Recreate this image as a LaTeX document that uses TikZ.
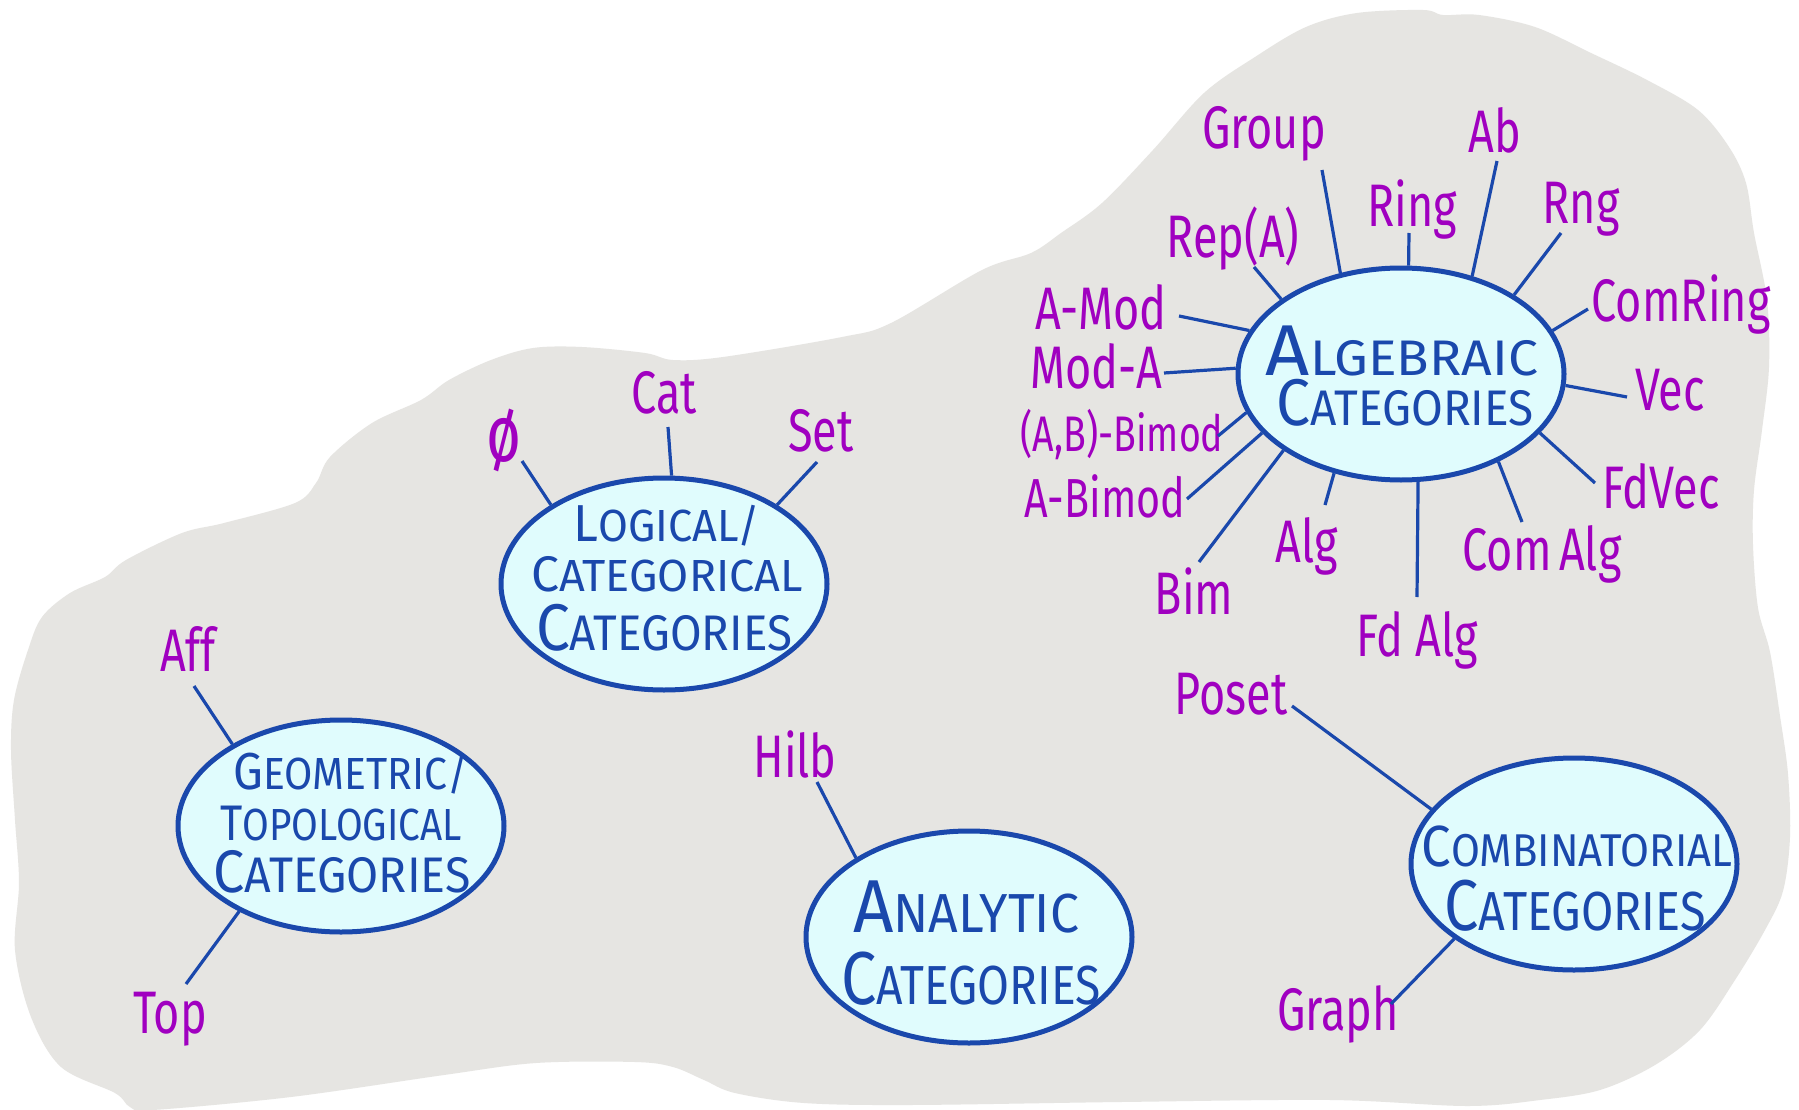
\documentclass[tikz,border=0pt]{standalone}
\usepackage{fontspec}
\setmainfont{Fira Sans}
\usepackage{graphicx}
\usetikzlibrary{shapes.geometric}
\definecolor{blobgrey}{RGB}{230,229,226}
\definecolor{ellfill}{RGB}{224,252,253}
\definecolor{inkblue}{RGB}{26,72,172}
\definecolor{labpurple}{RGB}{160,0,192}
\newcommand{\capline}[5]{\scalebox{#1}[1]{\fontsize{#2}{#2}\selectfont #3\fontsize{#4}{#4}\selectfont #5}}
\newcommand{\lbltext}[1]{\scalebox{0.75}[1]{#1}}
\begin{document}
\begin{tikzpicture}[x=1pt,y=-1pt,
  catell/.style={ellipse, draw=inkblue, fill=ellfill, line width=5pt, minimum width=326pt, minimum height=212pt, inner sep=0pt},
  catline/.style={text=inkblue, anchor=base, inner sep=0pt},
  lbl/.style={text=labpurple, anchor=base, inner sep=0pt, font=\fontsize{60}{60}\selectfont},
  conn/.style={draw=inkblue, line width=3.2pt}]
\useasboundingbox (0,0) rectangle (1799,1110);
\fill[white] (0,0) rectangle (1799,1110);
% background blob
\fill[blobgrey] plot[smooth cycle, tension=0.55] coordinates {
(11,750) (14,700) (28,650) (42,617) (70,593) (105,577) (126,560) (182,533) (224,523) (295,503) (316,483) (330,457) (372,423) (421,400) (449,380) (491,360) (533,348) (582,347) (645,353) (673,360) (723,357) (842,337) (891,323) (982,270) (1031,253) (1061,233) (1102,203) (1153,150) (1204,93) (1255,57) (1306,27) (1357,13) (1423,10) (1443,15) (1479,15) (1535,27) (1591,53) (1647,80) (1698,110) (1729,147) (1746,183) (1754,233) (1767,300) (1769,367) (1762,430) (1754,490) (1753,545) (1758,608) (1770,652) (1780,716) (1788,774) (1790,837) (1783,891) (1765,930) (1735,980) (1700,1030) (1655,1065) (1600,1090) (1540,1100) (1467,1106) (1331,1100) (1121,1102) (910,1105) (804,1103) (735,1093) (704,1080) (673,1067) (635,1062) (536,1063) (444,1075) (291,1097) (153,1110) (130,1107) (115,1093) (61,1067) (31,1017) (15,950) (19,883) (15,820)};

% ellipses
\node[catell] (alg) at (1401,374) {};
\node[catell] (log) at (664,584) {};
\node[catell] (geo) at (341,826) {};
\node[catell] (ana) at (969,937) {};
\node[catell] (comb) at (1574,864) {};

% ellipse texts
\node[catline] (algA) at (1402,375) {\capline{1.07}{72}{A}{50}{LGEBRAIC}};
\node[catline] (algB) at (1405,425) {\capline{0.92}{66}{C}{50}{ATEGORIES}};
\node[catline] (logA) at (667,541) {\capline{0.96}{52}{L}{45}{OGICAL/}};
\node[catline] (logB) at (667,591) {\capline{1.0}{50}{C}{45}{ATEGORICAL}};
\node[catline] (logC) at (664,650) {\capline{0.915}{66}{C}{50}{ATEGORIES}};
\node[catline] (geoA) at (351,789) {\capline{0.91}{52}{G}{45}{EOMETRIC/}};
\node[catline] (geoB) at (341,840) {\capline{0.86}{50}{T}{45}{OPOLOGICAL}};
\node[catline] (geoC) at (342,892) {\capline{0.93}{60}{C}{50}{ATEGORIES}};
\node[catline] (anaA) at (966,932) {\capline{0.94}{75}{A}{55}{NALYTIC}};
\node[catline] (anaB) at (971,1004) {\capline{0.84}{75}{C}{55}{ATEGORIES}};
\node[catline] (combA) at (1577,866) {\capline{0.91}{58}{C}{46}{OMBINATORIAL}};
\node[catline] (combB) at (1575,930) {\capline{0.85}{72}{C}{55}{ATEGORIES}};

% labels: algebraic
\node[lbl] (group) at (1264,149) {\lbltext{Group}};
\node[lbl] (ring) at (1412,226) {\lbltext{Ring}};
\node[lbl] (ab) at (1495,153) {\lbltext{Ab}};
\node[lbl] (rng) at (1581,224) {\lbltext{Rng}};
\node[lbl] (comring) at (1681,321) {\lbltext{ComRing}};
\node[lbl] (vec) at (1670,410) {\lbltext{Vec}};
\node[lbl] (fdvec) at (1661,508) {\lbltext{FdVec}};
\node[lbl] (comalg) at (1542,570) {\lbltext{Com\,Alg}};
\node[lbl] (fdalg) at (1417,656) {\lbltext{Fd Alg}};
\node[lbl] (alglab) at (1307,562) {\lbltext{Alg}};
\node[lbl] (bim) at (1194,614) {\lbltext{Bim}};
\node[lbl,font=\fontsize{55}{55}\selectfont] (abimod) at (1105,517) {\lbltext{A-Bimod}};
\node[lbl,font=\fontsize{50}{50}\selectfont] (abbimod) at (1122,451) {\lbltext{(A,B)-Bimod}};
\node[lbl] (moda) at (1096,388) {\lbltext{Mod-A}};
\node[lbl] (amod) at (1101,329) {\lbltext{A-Mod}};
\node[lbl] (repa) at (1233,258) {\lbltext{Rep(A)}};
% labels: logical
\node[lbl,font=\fontsize{80}{80}\selectfont] (empty) at (504,461) {\lbltext{ø}};
\node[lbl] (cat) at (664,413) {\lbltext{Cat}};
\node[lbl] (set) at (821,451) {\lbltext{Set}};
% labels: geometric
\node[lbl] (aff) at (188,671) {\lbltext{Aff}};
\node[lbl] (top) at (170,1033) {\lbltext{Top}};
% labels: analytic
\node[lbl] (hilb) at (795,777) {\lbltext{Hilb}};
% labels: combinatorial
\node[lbl] (poset) at (1231,714) {\lbltext{Poset}};
\node[lbl] (graph) at (1338,1030) {\lbltext{Graph}};

% connector ends near labels
\coordinate (cgroup) at (1322,170);
\coordinate (cring) at (1409,233);
\coordinate (cab) at (1497,161);
\coordinate (crng) at (1561,233);
\coordinate (ccomring) at (1588,309);
\coordinate (cvec) at (1627,397);
\coordinate (cfdvec) at (1595,483);
\coordinate (ccomalg) at (1522,522);
\coordinate (cfdalg) at (1417,597);
\coordinate (calg) at (1325,505);
\coordinate (cbim) at (1199,562);
\coordinate (cabimod) at (1187,499);
\coordinate (cabbimod) at (1218,436);
\coordinate (cmoda) at (1164,373);
\coordinate (camod) at (1179,316);
\coordinate (crepa) at (1254,267);
\coordinate (cempty) at (522,461);
\coordinate (ccat) at (668,427);
\coordinate (cset) at (817,462);
\coordinate (caff) at (194,686);
\coordinate (ctop) at (186,984);
\coordinate (chilb) at (817,782);
\coordinate (cposet) at (1292,706);
\coordinate (cgraph) at (1391,1004);

% connectors
\draw[conn] (cgroup) -- (alg.121.6);
\draw[conn] (cring) -- (alg.86.2);
\draw[conn] (cab) -- (alg.54.0);
\draw[conn] (crng) -- (alg.35.0);
\draw[conn] (ccomring) -- (alg.16.8);
\draw[conn] (cvec) -- (alg.-4.4);
\draw[conn] (cfdvec) -- (alg.-23.1);
\draw[conn] (ccomalg) -- (alg.-42.1);
\draw[conn] (cfdalg) -- (alg.-81.5);
\draw[conn] (calg) -- (alg.236.3);
\draw[conn] (cbim) -- (alg.213.6);
\draw[conn] (cabimod) -- (alg.203.3);
\draw[conn] (cabbimod) -- (alg.194.3);
\draw[conn] (cmoda) -- (alg.178.4);
\draw[conn] (camod) -- (alg.164.6);
\draw[conn] (crepa) -- (alg.148.1);
\draw[conn] (cempty) -- (log.145.1);
\draw[conn] (ccat) -- (log.86.9);
\draw[conn] (cset) -- (log.35.9);
\draw[conn] (caff) -- (geo.143.0);
\draw[conn] (ctop) -- (geo.220.4);
\draw[conn] (chilb) -- (ana.145.4);
\draw[conn] (cposet) -- (comb.159.1);
\draw[conn] (cgraph) -- (comb.212.5);
\end{tikzpicture}
\end{document}
